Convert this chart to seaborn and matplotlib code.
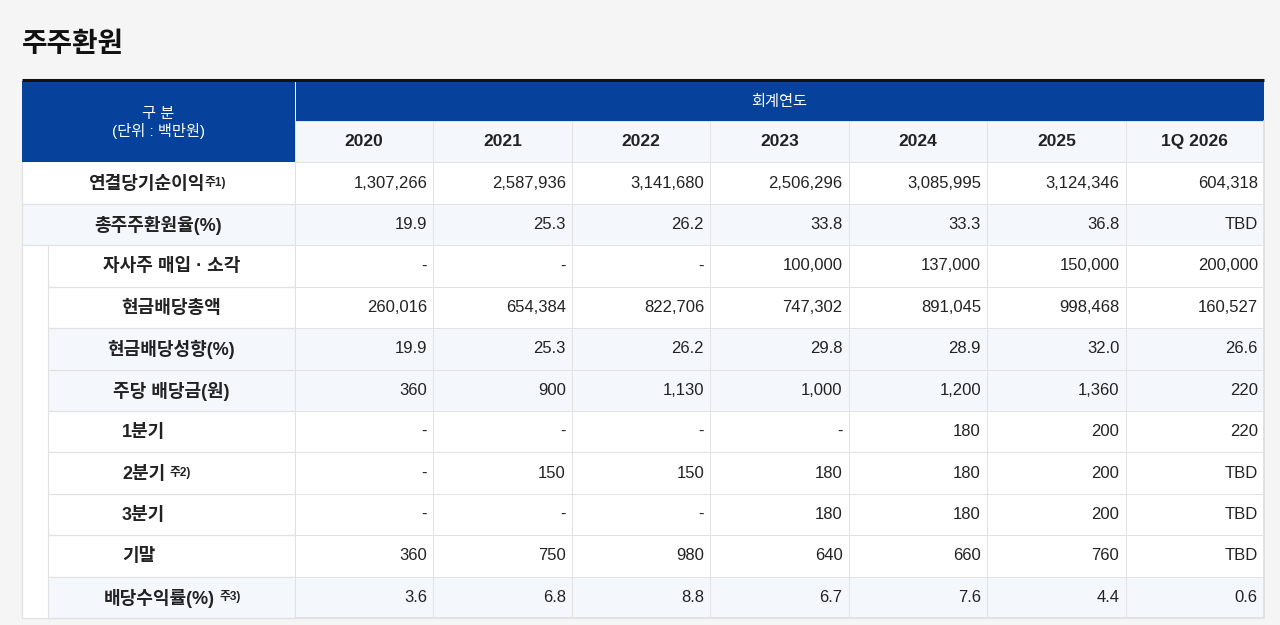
import numpy as np
import pandas as pd
import matplotlib.pyplot as plt
import matplotlib.colors as mcolors
from matplotlib.patches import Rectangle
import seaborn as sns

# ---- data ----
years = ['2020', '2021', '2022', '2023', '2024', '2025', '1Q 2026']
row_labels = ['연결당기순이익', '총주주환원율(%)', '자사주 매입 · 소각', '현금배당총액',
              '현금배당성향(%)', '주당 배당금(원)', '1분기', '2분기', '3분기', '기말',
              '배당수익률(%)']
notes = {0: '주1)', 7: '주2)', 10: '주3)'}

net_income = [1307266, 2587936, 3141680, 2506296, 3085995, 3124346, 604318]
total_return = [19.9, 25.3, 26.2, 33.8, 33.3, 36.8, 'TBD']
buyback = [None, None, None, 100000, 137000, 150000, 200000]
cash_div = [260016, 654384, 822706, 747302, 891045, 998468, 160527]
payout = [19.9, 25.3, 26.2, 29.8, 28.9, 32.0, 26.6]
dps = [360, 900, 1130, 1000, 1200, 1360, 220]
q1 = [None, None, None, None, 180, 200, 220]
q2 = [None, 150, 150, 180, 180, 200, 'TBD']
q3 = [None, None, None, 180, 180, 200, 'TBD']
final = [360, 750, 980, 640, 660, 760, 'TBD']
div_yield = [3.6, 6.8, 8.8, 6.7, 7.6, 4.4, 0.6]

rows = [net_income, total_return, buyback, cash_div, payout, dps,
        q1, q2, q3, final, div_yield]


def fmt(v):
    if v is None:
        return '-'
    if isinstance(v, str):
        return v
    if isinstance(v, float):
        return f'{v:.1f}'
    return f'{v:,}'


sns.set_theme(style='white')
plt.rcParams['font.family'] = ['Liberation Sans', 'Noto Sans CJK KR', 'DejaVu Sans']

W, H = 1280, 625
BLUE = '#06429b'
LIGHT = '#f4f8fd'
GRID = '#e2e2e2'
TXT = '#222222'

fig = plt.figure(figsize=(W / 100, H / 100), dpi=100, facecolor='#f5f5f5')

# pixel-space canvas for header / labels
ax = fig.add_axes([0, 0, 1, 1])
ax.set_xlim(0, W)
ax.set_ylim(H, 0)
ax.axis('off')

x_left, x_ind, x_lab, x_right = 22, 48, 295, 1264
y_top, y_mid, y_bot = 81, 121, 618
rh = (y_bot - y_mid) / (len(rows) + 1)
# year row, then one flag per data row (light blue band or white)
shade = [1] + [0, 1, 0, 0, 1, 1, 0, 0, 0, 0, 1]

ax.text(x_left, 45, '주주환원', fontsize=20, weight='bold', va='center', ha='left', color='#111111')

# header blocks
ax.add_patch(Rectangle((x_left, y_top), x_lab - x_left, y_mid + rh - y_top, color=BLUE, lw=0))
ax.add_patch(Rectangle((x_lab + 1, y_top), x_right - x_lab - 1, y_mid - y_top, color=BLUE, lw=0))
ax.plot([x_left, x_right], [80, 80], color='#111111', lw=2.2, solid_capstyle='butt')
ax.text((x_left + x_lab) / 2, 114, '구 분', color='white', fontsize=11, ha='center', va='center')
ax.text((x_left + x_lab) / 2, 131, '(단위 : 백만원)', color='white', fontsize=11, ha='center', va='center')
ax.text((x_lab + x_right) / 2, 102, '회계연도', color='white', fontsize=11, ha='center', va='center')

# label column
for k, lab in enumerate(row_labels):
    top = y_mid + (k + 1) * rh
    x0 = x_left if k < 2 else x_ind
    bg = LIGHT if shade[k + 1] else 'white'
    ax.add_patch(Rectangle((x0, top), x_lab - x0, rh, color=bg, lw=0))
    if k >= 2:
        ax.add_patch(Rectangle((x_left, top), x_ind - x_left, rh, color='white', lw=0))
    ax.plot([x0, x_lab], [top + rh, top + rh], color=GRID, lw=0.9)
    cy = top + rh / 2 + 1
    if 6 <= k <= 9:
        t = ax.text(122, cy, lab, ha='left', va='center', fontsize=13, weight='bold', color=TXT)
    else:
        cx = (x_left + x_lab) / 2 if k < 2 else (x_ind + x_lab) / 2
        if k in notes:
            cx -= 12
        t = ax.text(cx, cy, lab, ha='center', va='center', fontsize=13, weight='bold', color=TXT)
    if k in notes:
        ax.annotate(notes[k], xy=(1, 0.6), xycoords=t, xytext=(3 if k else 0, 0),
                    textcoords='offset points', fontsize=8.5, weight='bold',
                    ha='left', va='center', color=TXT)

ax.plot([x_ind, x_ind], [y_mid + 3 * rh, y_bot], color=GRID, lw=0.9)
ax.plot([x_left, x_left], [y_mid + rh, y_bot], color=GRID, lw=0.9)
ax.plot([x_left, x_lab], [y_bot, y_bot], color=GRID, lw=0.9)
ax.plot([x_lab, x_lab], [y_mid + rh, y_bot], color=GRID, lw=0.9)

# data grid via seaborn heatmap
shade_df = pd.DataFrame(np.repeat(np.array(shade)[:, None], len(years), axis=1), columns=years)
hm_ax = fig.add_axes([x_lab / W, 1 - y_bot / H, (x_right - x_lab) / W, (y_bot - y_mid) / H])
sns.heatmap(shade_df, cmap=mcolors.ListedColormap(['#ffffff', LIGHT]), vmin=0, vmax=1,
            cbar=False, linewidths=0.7, linecolor=GRID, xticklabels=False, yticklabels=False,
            ax=hm_ax)
hm_ax.set_xlabel('')
hm_ax.set_ylabel('')
hm_ax.axvline(len(years), color=GRID, lw=1.4, clip_on=False)
hm_ax.axhline(len(shade), color=GRID, lw=1.4, clip_on=False)

for j, yr in enumerate(years):
    hm_ax.text(j + 0.5, 0.5, yr, ha='center', va='center', fontsize=12.5, weight='bold', color=TXT)
for i, vals in enumerate(rows):
    for j, v in enumerate(vals):
        hm_ax.text(j + 1 - 0.045, i + 1.5, fmt(v), ha='right', va='center', fontsize=12, color=TXT)

fig.savefig('out.png', dpi=100, facecolor=fig.get_facecolor())
